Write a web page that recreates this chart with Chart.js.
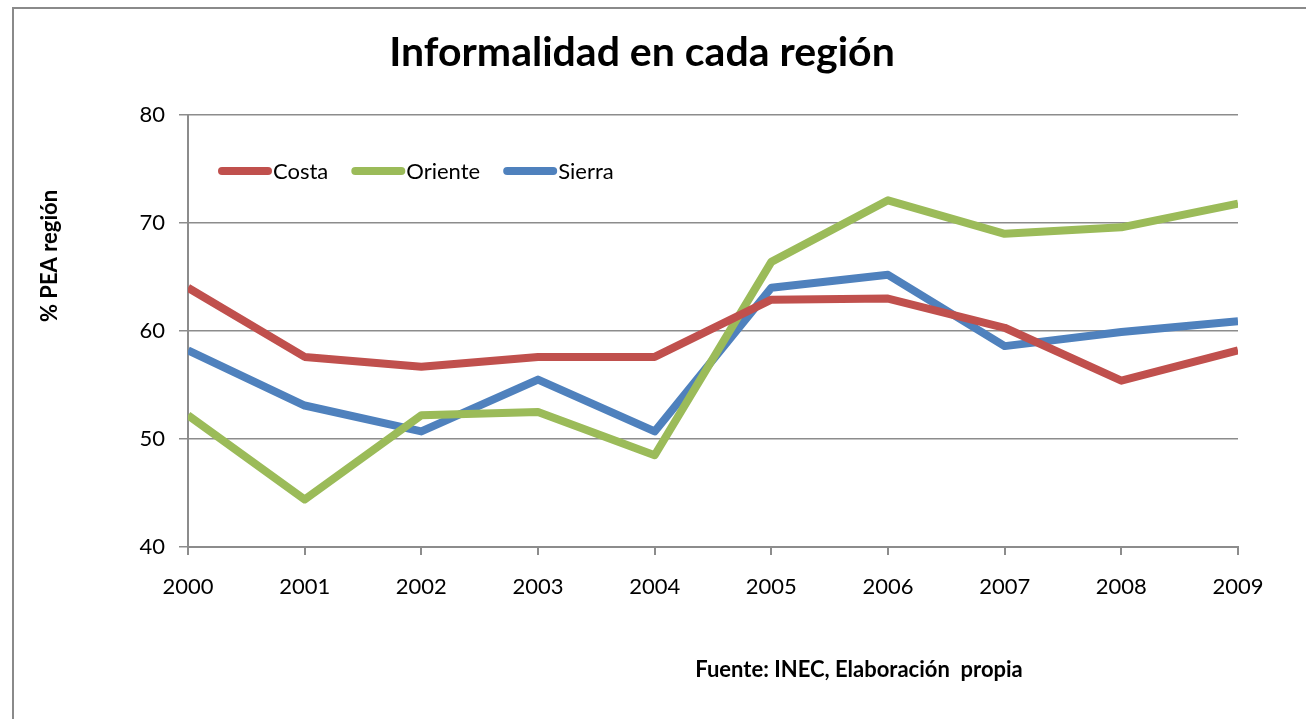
<!DOCTYPE html>
<html>
<head>
<meta charset="utf-8">
<script src="https://cdn.jsdelivr.net/npm/chart.js@4/dist/chart.umd.min.js"></script>
<style>
  html, body { margin: 0; padding: 0; background: #fff; }
  #wrap { position: relative; width: 1306px; height: 719px; }
  #frame { position: absolute; left: 12px; top: 7px; right: 0; bottom: -10px;
           border-top: 2px solid #8a8a8a; border-left: 2px solid #8a8a8a; }
  canvas { position: absolute; left: 0; top: 0; }
</style>
</head>
<body>
<div id="wrap">
  <div id="frame"></div>
  <canvas id="chart" width="1306" height="719"></canvas>
</div>
<script>
const years = ['2000', '2001', '2002', '2003', '2004', '2005', '2006', '2007', '2008', '2009'];
const costa = [64.0, 57.6, 56.7, 57.6, 57.6, 62.9, 63.0, 60.3, 55.4, 58.2];
const oriente = [52.2, 44.4, 52.2, 52.5, 48.5, 66.4, 72.1, 69.0, 69.6, 71.8];
const sierra = [58.2, 53.1, 50.7, 55.5, 50.7, 64.0, 65.2, 58.6, 59.9, 60.9];
const yTicks = [40, 50, 60, 70, 80];

const titleText = 'Informalidad en cada región';
const yAxisText = '% PEA región';
const sourceText = 'Fuente: INEC, Elaboración  propia';

const FONT = 'Lato, "Open Sans", sans-serif';
const GRID = '#8c8c8c';

// legend drawn inside the plot, plus title, axis name and source note
const extras = {
  id: 'extras',
  afterDraw(chart) {
    const { ctx, chartArea } = chart;
    ctx.save();

    ctx.fillStyle = '#000';
    ctx.textAlign = 'center';
    ctx.textBaseline = 'alphabetic';
    ctx.font = 'bold 41px ' + FONT;
    ctx.fillText(titleText, 642, 66);

    ctx.font = 'bold 22px ' + FONT;
    ctx.fillText(sourceText, 859, 677);

    ctx.save();
    ctx.translate(57, 256);
    ctx.rotate(-Math.PI / 2);
    ctx.font = 'bold 22px ' + FONT;
    ctx.fillText(yAxisText, 0, 0);
    ctx.restore();

    let x = chartArea.left + 30;
    const y = chartArea.top + 56;
    ctx.font = '22px ' + FONT;
    ctx.textAlign = 'left';
    ctx.textBaseline = 'middle';
    chart.data.datasets.forEach(ds => {
      ctx.strokeStyle = ds.borderColor;
      ctx.lineWidth = 8;
      ctx.lineCap = 'round';
      ctx.beginPath();
      ctx.moveTo(x + 4, y);
      ctx.lineTo(x + 50, y);
      ctx.stroke();
      ctx.fillStyle = '#000';
      ctx.fillText(ds.label, x + 55, y + 1);
      x += 55 + ctx.measureText(ds.label).width + 23;
    });
    ctx.restore();
  }
};

function line(label, data, color) {
  return {
    label,
    data,
    borderColor: color,
    backgroundColor: color,
    borderWidth: 8,
    borderJoinStyle: 'round',
    pointRadius: 0,
    tension: 0,
    clip: 0
  };
}

new Chart(document.getElementById('chart'), {
  type: 'line',
  data: {
    labels: years,
    datasets: [
      line('Costa', costa, '#C0504D'),
      line('Oriente', oriente, '#9BBB59'),
      line('Sierra', sierra, '#4F81BD')
    ]
  },
  options: {
    responsive: false,
    animation: false,
    layout: { padding: { left: 0, top: 115, right: 68, bottom: 0 } },
    plugins: {
      legend: { display: false },
      tooltip: { enabled: false }
    },
    scales: {
      x: {
        offset: false,
        afterFit: s => { s.height = 172; },
        grid: { drawOnChartArea: false, drawTicks: true, tickLength: 8, color: GRID, lineWidth: 2 },
        border: { color: GRID, width: 2 },
        ticks: { color: '#000', padding: 19, maxRotation: 0, font: { family: FONT, size: 22 } }
      },
      y: {
        min: 40,
        max: 80,
        afterFit: s => { s.width = 188; },
        afterBuildTicks: s => { s.ticks = yTicks.map(v => ({ value: v })); },
        grid: { color: GRID, lineWidth: 1.5, tickLength: 9 },
        border: { color: GRID, width: 2 },
        ticks: { color: '#000', padding: 14, font: { family: FONT, size: 22 } }
      }
    }
  },
  plugins: [extras]
});
</script>
</body>
</html>
